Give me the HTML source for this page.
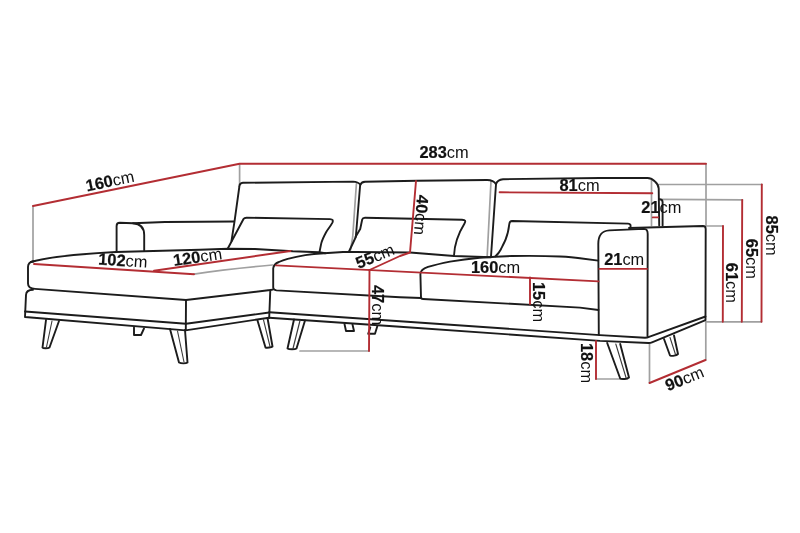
<!DOCTYPE html>
<html><head><meta charset="utf-8">
<style>
html,body{margin:0;padding:0;background:#fff;}
body{width:800px;height:533px;overflow:hidden;font-family:"Liberation Sans",sans-serif;}
svg{display:block;position:absolute;left:0;top:0;filter:blur(0.45px);}
.k{fill:none;stroke:#1c1c1c;stroke-width:1.9;stroke-linecap:round;stroke-linejoin:round;}
.g{fill:none;stroke:#a0a0a0;stroke-width:1.7;stroke-linecap:round;}
.r{fill:none;stroke:#b32d33;stroke-width:1.9;stroke-linecap:round;stroke-linejoin:round;}
text{font-family:"Liberation Sans",sans-serif;font-size:16.4px;fill:#111;}
.b{font-weight:bold;stroke:#111;stroke-width:0.2px;}
</style></head><body>
<svg width="800" height="533" viewBox="0 0 800 533">
<rect width="800" height="533" fill="#fff"/>

<!-- GRAY -->
<g class="g">
<path d="M33,206 L33,262"/>
<path d="M239.6,164 L239.6,185"/>
<path d="M194,274.2 C220,270 250,267 272.5,265"/>
<path d="M356.4,183.8 L352.7,237 L350.5,250"/>
<path d="M491,181 L487.2,256"/>
<path d="M651.5,178.5 L651.5,225.5"/>
<path d="M706,164 L706,226"/>
<path d="M658.5,184.5 L762,184.5"/>
<path d="M662.5,199.3 L742.5,199.8"/>
<path d="M706,226 L723,226"/>
<path d="M706,321.8 L761.5,321.8"/>
<path d="M705.8,321.8 L705.8,360"/>
<path d="M649.5,343 L649.5,383"/>
<path d="M596,379 L627.5,379"/>
<path d="M300,351 L369,351"/>
</g>

<!-- BLACK -->
<g class="k">
<!-- chaise cushion -->
<path d="M33.5,261.3 C29.5,262 28,264 28,267 L28,283.5 C28,287 30.500,288.600 35,288.9 L186,300 L270.3,290 L272.8,289.6"/>
<path d="M31,262 C45,257.5 80,254 116,252 L200,249.8 L228,248.7 L255,249 L292.7,251.3 L319,252.3 L325.4,253.2"/>
<!-- chaise base -->
<path d="M33,289.800 C28,289.900 26.100,291.500 26,295 L25,317 L185.5,330.4 L269,317.7"/>
<path d="M25,311.5 L186,323.8 L269.2,312.5"/>
<path d="M186,300 L185.8,330.2"/>
<path d="M270.3,290 L269.2,317.7"/>
<!-- left arm -->
<path d="M116.6,251.5 L116.6,226 C116.6,223.600 117.500,222.8 119.8,222.8 L133,223.2 C140.500,223.700 144.2,227.500 144.2,235 L144.2,250.5"/>
<path d="M133,223.2 L165,222 L200,221.7 L234,221.5"/>
<!-- back cushion 1 -->
<path d="M231.5,241 L234.6,220.8 L239.3,187 C239.3,184 240.5,183 243,182.8 L353,181.6 C357,181.8 359,183 360.2,184.5 L356.4,230 L355.8,237 L349,251.5"/>
<!-- pillow 1 -->
<path d="M227.8,248.5 L243.5,219 C244.200,217.9 245,217.7 246.5,217.7 L330,219.1 C332.8,219.2 333.300,220.5 332.4,222.6 C330,227 328,229 326.1,232.2 C323.500,237 322,240 321.2,243.6 L319.6,251.5"/>
<!-- back cushion 2 -->
<path d="M360.5,184.8 C361,183 362.5,182 365,181.8 L417,180.7 L487,180 C492,180 494.5,181.5 496,184.2 L491,256.5"/>
<!-- pillow 2 -->
<path d="M355.5,237 L360.2,229 L362.2,219.5 C362.6,218 363.5,217.7 365,217.7 L462,219.8 C465.5,220 466,221 464.5,223.5 C458,234 454.500,244 454,255.5"/>
<!-- back cushion 3 -->
<path d="M496,184.2 C497,181 499,179.5 503,179.2 L600,178 L647.5,178 C651,178.1 653,179.500 655,181.500 C657.500,183.800 658.6,185.500 658.7,188.5 L659.2,225.5"/>
<!-- back frame -->
<path d="M659.5,199.2 C661.700,199.3 662.6,200.2 662.6,202 L662.6,225.5"/>
<!-- pillow 3 -->
<path d="M495.5,256.3 C498,254 499.5,252 500.8,249.5 C503,245 504.500,242 505.6,239.5 C507.500,235 508.500,231 509.300,224 C509.600,221.5 510.5,221 512,221 L628,223.6 C630.5,223.800 631,225 630.300,228"/>
<!-- seat 1 -->
<path d="M421,298 L400,297.2 L276.5,290.4 C274.3,290.2 273.2,289.3 273.2,287.6 L273.2,268.5 C273.5,265 276,263.2 278.9,262 C282,260.600 285,259.600 287.7,258.8 C294,257.200 300,256.000 305.3,255.1 C312,254.1 318,253.6 324.1,253.2 L343,252 L355.5,252 L410,252.5 L454,256 L491,257.2"/>
<!-- seat 2 -->
<path d="M421,297.5 L420.4,274 C420.600,269.800 424,268.200 428,266.9 C435,264.8 442,263.2 450,261.6 C470,258.2 490,256.500 512,256 C530,255.700 545,255.800 560,256.5 C568,256.900 575,257.500 580,258.2 L598.2,260.6"/>
<path d="M421,297.5 C421.2,298.8 422,299 423,299 L580,307.6 L598.5,310"/>
<!-- main base -->
<path d="M269.3,312.3 L400,321.3 L600,335.1 L645,337.700 C647,337.700 648,337.300 649.000,336.800 L705.5,316.5 L705.500,320.2 L652.000,342.300 C651.000,342.800 650,343 648.500,343 L600,340.900 L400,326.7 L269.2,317.7"/>
<!-- right arm -->
<path d="M598.8,334.5 L598.3,244 C598.3,235 601.5,231 609.3,230.4 L644,228.9 C647,229 647.7,231 647.7,234 L647.5,336"/>
<path d="M629,228 L703,226 C705,226 705.7,227 705.7,229 L705.5,316.5"/>
<!-- legs -->
<path d="M46,320 L42.5,347.5 C43,348.5 48,348.500 49.500,347.500 L59,321"/>
<path d="M134,327.5 L134,335 L141,335 L144,328.5"/>
<path d="M170,329 L179,362.5 C181,363.700 186,363.700 187.500,362.500 L185,330"/>
<path d="M257.5,320.5 L265.5,347.5 C267,348 271.5,347.500 272.5,346.5 L267.5,318"/>
<path d="M294,319.5 L287.5,348.5 C289,349.500 295,349.500 296.500,348.500 L305,320.5"/>
<path d="M344.5,324 L346,331 L354,331 L352.5,324.5"/>
<path d="M370.3,327.5 L368.2,333.8 L375,333.8 L377.3,326.3"/>
<path d="M607.2,343 L620.2,378.5 C622,379.500 627.500,379 629,377.500 L620.2,344"/>
<path d="M664,339 L670,355.500 C672,356.500 676.500,355.500 678,354 L674,335.5"/>
</g>

<g style="fill:none;stroke:#3a3a3a;stroke-width:1.1;stroke-linecap:round">
<path d="M52,321 L46.5,347"/>
<path d="M177.500,331 L184,362"/>
<path d="M263.500,319.8 L270,346.5"/>
<path d="M300,320.5 L293,348.5"/>
<path d="M670,337.5 L675.5,354.5"/>
<path d="M615.8,344 L626,377.5"/>
</g>
<!-- RED -->
<g class="r">
<path d="M33,206 L239.6,163.75 L706,163.75"/>
<path d="M34,264 L194,274.2"/>
<path d="M154,270.7 L290.6,251"/>
<path d="M276,265.4 L598.5,281.4"/>
<path d="M369.5,270 L400,256 L410,252.5 L416,181"/>
<path d="M369.5,270 L369,351"/>
<path d="M499.6,192.3 L652.3,193.3"/>
<path d="M530,277.5 L530,304"/>
<path d="M599.3,268.9 L647,268.9"/>
<path d="M652.8,217.4 L658,217.4"/>
<path d="M761.8,184.5 L761.5,321.8"/>
<path d="M742.2,200 L741.8,321.8"/>
<path d="M723,226 L722.8,321.8"/>
<path d="M596,341 L596,379"/>
<path d="M649.5,383 L705.5,360"/>
</g>

<!-- TEXT -->
<text x="419.5" y="157.8"><tspan class="b">283</tspan>cm</text>
<text transform="translate(87,191.5) rotate(-11.6)"><tspan class="b">160</tspan>cm</text>
<text transform="translate(98,264.5) rotate(3.6)"><tspan class="b">102</tspan>cm</text>
<text transform="translate(174,266) rotate(-8.2)"><tspan class="b">120</tspan>cm</text>
<text transform="translate(358.5,269) rotate(-22)"><tspan class="b">55</tspan>cm</text>
<text transform="translate(372,285) rotate(90)"><tspan class="b">47</tspan>cm</text>
<text transform="translate(417.3,194.6) rotate(94.8)"><tspan class="b">40</tspan>cm</text>
<text x="559.5" y="191.3"><tspan class="b">81</tspan>cm</text>
<text x="471" y="273"><tspan class="b">160</tspan>cm</text>
<text transform="translate(533,282) rotate(90)"><tspan class="b">15</tspan>cm</text>
<text x="604.2" y="264.6"><tspan class="b">21</tspan>cm</text>
<text x="641.3" y="213.2"><tspan class="b">21</tspan>cm</text>
<text transform="translate(581.3,343) rotate(90)"><tspan class="b">18</tspan>cm</text>
<text transform="translate(726,262.8) rotate(90)"><tspan class="b">61</tspan>cm</text>
<text transform="translate(746,238.8) rotate(90)"><tspan class="b">65</tspan>cm</text>
<text transform="translate(765.5,215.6) rotate(90)"><tspan class="b">85</tspan>cm</text>
<text transform="translate(668,391.3) rotate(-22)"><tspan class="b">90</tspan>cm</text>
</svg>
</body></html>
